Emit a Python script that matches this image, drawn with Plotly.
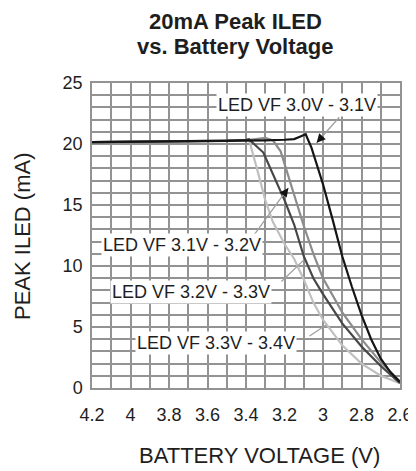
import plotly.graph_objects as go

# Battery voltage (V) and peak ILED (mA) for each LED forward-voltage bin
v_30_31 = [4.2, 3.8, 3.5, 3.4, 3.3, 3.2, 3.15, 3.12, 3.09, 3.06, 3.0, 2.95, 2.9, 2.85, 2.8, 2.75, 2.7, 2.65, 2.6]
i_30_31 = [20.15, 20.2, 20.25, 20.3, 20.3, 20.35, 20.4, 20.6, 20.8, 19.7, 16.7, 13.8, 10.8, 8.3, 6.0, 4.0, 2.4, 1.3, 0.5]

v_31_32 = [4.2, 3.8, 3.5, 3.4, 3.3, 3.26, 3.22, 3.15, 3.1, 3.05, 3.0, 2.9, 2.8, 2.7, 2.6]
i_31_32 = [20.15, 20.2, 20.25, 20.3, 20.5, 20.3, 19.4, 15.8, 13.3, 11.0, 9.0, 6.2, 4.0, 2.1, 0.5]

v_32_33 = [4.2, 3.8, 3.5, 3.4, 3.385, 3.31, 3.2, 3.15, 3.1, 3.05, 3.0, 2.9, 2.8, 2.7, 2.6]
i_32_33 = [20.15, 20.2, 20.25, 20.35, 20.4, 19.3, 15.4, 13.4, 10.8, 9.0, 7.7, 5.3, 3.4, 1.8, 0.4]

v_33_34 = [4.2, 3.8, 3.5, 3.4, 3.385, 3.34, 3.3, 3.26, 3.2, 3.15, 3.1, 3.05, 3.0, 2.9, 2.8, 2.7, 2.6]
i_33_34 = [20.15, 20.2, 20.25, 20.35, 20.4, 17.8, 15.4, 13.6, 11.8, 10.6, 8.9, 7.0, 5.6, 3.5, 2.0, 1.0, 0.4]

x_ticks = [4.2, 4.0, 3.8, 3.6, 3.4, 3.2, 3.0, 2.8, 2.6]
x_tick_labels = ["4.2", "4", "3.8", "3.6", "3.4", "3.2", "3", "2.8", "2.6"]
y_ticks = [0, 5, 10, 15, 20, 25]

series = [
    ("LED VF 3.3V - 3.4V", v_33_34, i_33_34, "#c0c0c0"),
    ("LED VF 3.1V - 3.2V", v_31_32, i_31_32, "#8c8c8c"),
    ("LED VF 3.2V - 3.3V", v_32_33, i_32_33, "#474747"),
    ("LED VF 3.0V - 3.1V", v_30_31, i_30_31, "#151515"),
]

FONT = "Liberation Sans, Arial, Helvetica, sans-serif"
GRID = "#939393"

# page body has an 8px margin: figure drawn at (8, 8)
OFF = 8
W, H = 416 - OFF, 471 - OFF
L, T, R, B = 92 - OFF, 83 - OFF, 400 - OFF, 388 - OFF
PW, PH = R - L, B - T


def px_x(x):
    return (x - OFF - L) / PW


def px_y(y):
    return (B - (y - OFF)) / PH


fig = go.Figure()
for name, xs, ys, col in series:
    fig.add_trace(go.Scatter(x=xs, y=ys, mode="lines", name=name,
                             line=dict(color=col, width=2.2), showlegend=False))

# label text: (text, x, y, tip_x, tip_y, tail offset px)
labels = [
    ("LED VF 3.0V - 3.1V", 3.136, 23.2, 3.033, 20.1, 24, -27),
    ("LED VF 3.1V - 3.2V", 3.73, 11.7, 3.18, 16.4, -35, 48),
    ("LED VF 3.2V - 3.3V", 3.687, 7.9, 3.099, 10.5, -24, 23),
    ("LED VF 3.3V - 3.4V", 3.557, 3.66, 2.984, 5.16, -18, 12),
]
ann = []
for text, tx, ty, px, py, ax, ay in labels:
    ann.append(dict(x=px, y=py, xref="x", yref="y", ax=ax, ay=ay, text="",
                    showarrow=True, arrowhead=0, arrowwidth=1.3, arrowcolor="#a0a0a0", standoff=0))
    ann.append(dict(x=px, y=py, xref="x", yref="y", ax=ax * 0.12, ay=ay * 0.12, text="",
                    showarrow=True, arrowhead=2, arrowsize=1.1, arrowwidth=1.6, arrowcolor="#111", standoff=0))
    ann.append(dict(x=tx, y=ty, xref="x", yref="y", text=text, showarrow=False,
                    bgcolor="white", borderpad=1,
                    font=dict(family=FONT, size=18, color="#1e1e1e")))

for txt, cy in (("<b>20mA Peak ILED</b>", 21), ("<b>vs. Battery Voltage</b>", 47)):
    ann.append(dict(x=px_x(235), y=px_y(cy), xref="paper", yref="paper",
                    xanchor="center", yanchor="middle", showarrow=False, text=txt,
                    font=dict(family=FONT, size=22, color="#1e1e1e")))

ann.append(dict(x=px_x(259), y=px_y(456), xref="paper", yref="paper",
                xanchor="center", yanchor="middle", showarrow=False,
                text="BATTERY VOLTAGE (V)",
                font=dict(family=FONT, size=22, color="#1e1e1e")))
ann.append(dict(x=px_x(23), y=px_y(237), xref="paper", yref="paper",
                xanchor="center", yanchor="middle", showarrow=False, textangle=-90,
                text="PEAK ILED (mA)",
                font=dict(family=FONT, size=22, color="#1e1e1e")))

fig.update_layout(
    width=W, height=H,
    margin=dict(l=L, r=W - R, t=T, b=H - B, autoexpand=False),
    paper_bgcolor="white", plot_bgcolor="white",
    font=dict(family=FONT, color="#1e1e1e"),
    annotations=ann,
)
fig.update_xaxes(
    range=[4.2, 2.6], tickvals=x_ticks, ticktext=x_tick_labels, automargin=False,
    tickfont=dict(size=18), ticklabelstandoff=10,
    showgrid=True, gridcolor=GRID, gridwidth=1.5,
    minor=dict(dtick=0.1, tick0=2.6, showgrid=True, gridcolor=GRID, gridwidth=1.5),
    showline=True, mirror=True, linecolor=GRID, linewidth=1.5, zeroline=False,
)
fig.update_yaxes(
    range=[0, 25], tickvals=y_ticks, automargin=False,
    tickfont=dict(size=18), ticklabelstandoff=4,
    showgrid=True, gridcolor=GRID, gridwidth=1.5,
    minor=dict(dtick=1, showgrid=True, gridcolor=GRID, gridwidth=1.5),
    showline=True, mirror=True, linecolor=GRID, linewidth=1.5, zeroline=False,
)

fig.write_html("out.html")
